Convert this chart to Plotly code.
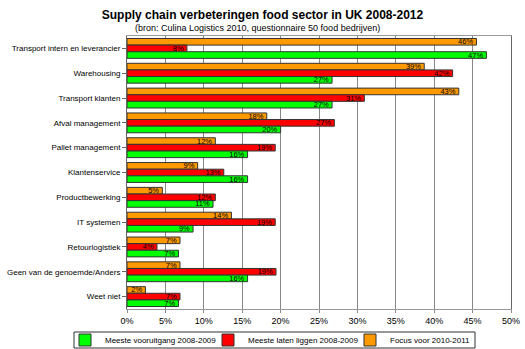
import plotly.graph_objects as go

categories = ["Transport intern en leverancier", "Warehousing", "Transport klanten",
              "Afval management", "Pallet management", "Klantenservice",
              "Productbewerking", "IT systemen", "Retourlogistiek",
              "Geen van de genoemde/Anders", "Weet niet"]
focus = [45.5, 38.7, 43.2, 18.2, 11.5, 9.2, 4.6, 13.6, 6.9, 6.9, 2.4]
laten = [7.8, 42.4, 30.9, 27.0, 19.3, 12.6, 11.5, 19.3, 3.9, 19.4, 6.9]
vooruit = [46.8, 26.7, 26.7, 20.0, 15.7, 15.7, 11.2, 8.6, 6.7, 15.7, 6.7]
x_ticks = [0, 5, 10, 15, 20, 25, 30, 35, 40, 45, 50]

series = [
    ("Focus voor 2010-2011", focus, "#FF9900", "legend3"),
    ("Meeste laten liggen 2008-2009", laten, "#FF0000", "legend2"),
    ("Meeste vooruitgang 2008-2009", vooruit, "#00FF00", "legend"),
]

fig = go.Figure()
for name, vals, col, lg in series:
    fig.add_trace(go.Bar(
        y=categories, x=vals, name=name, orientation="h", legend=lg, showlegend=True,
        marker=dict(color=col, line=dict(color="#333333", width=1)),
        text=[f"{round(v):.0f}%" for v in vals],
        textposition="inside", insidetextanchor="end", constraintext="none",
        textfont=dict(family="Arial", size=7.5, color="#000000"),
        cliponaxis=False,
    ))

W, H = 525, 349
ML, MR, MT, MB = 127, 14, 36, 40
PW, PH = W - ML - MR, H - MT - MB

# legend entry left edges (pixels) and vertical centre
leg_left = [65, 208, 350]
leg_mid = 340


def leg(xpx):
    return dict(orientation="h", xref="container", x=xpx / W, xanchor="left",
                yref="container", y=1 - leg_mid / H, yanchor="middle",
                borderwidth=0, bgcolor="rgba(0,0,0,0)",
                font=dict(family="Arial", size=8, color="#000000"), itemwidth=30)


fig.update_layout(
    width=W, height=H, showlegend=True,
    margin=dict(l=ML, r=MR, t=MT, b=MB, autoexpand=False),
    paper_bgcolor="white", plot_bgcolor="white",
    barmode="group", bargap=0.2, bargroupgap=0,
    font=dict(family="Arial", size=8, color="#000000"),
    title=dict(text="<b>Supply chain verbeteringen food sector in UK 2008-2012</b>",
               x=0.5, xref="container", xanchor="center",
               y=1 - 15 / H, yref="container", yanchor="middle",
               font=dict(family="Arial", size=12, color="#000000")),
    annotations=[dict(text="(bron: Culina Logistics 2010, questionnaire 50 food bedrijven)",
                      xref="paper", yref="paper", x=(257 - ML) / PW,
                      y=(H - MB - 28) / PH, xanchor="center", yanchor="middle",
                      showarrow=False, font=dict(family="Arial", size=9, color="#000000"))],
    shapes=[dict(type="rect", xref="paper", yref="paper",
                 x0=(leg_left[0] + 9 - ML) / PW, x1=(leg_left[2] + 125 - ML) / PW,
                 y0=(H - MB - (leg_mid + 8)) / PH, y1=(H - MB - (leg_mid - 8)) / PH,
                 line=dict(color="#333333", width=1), layer="below")],
    legend=leg(leg_left[0]),
    legend2=leg(leg_left[1]),
    legend3=leg(leg_left[2]),
    xaxis=dict(range=[0, 50], tickvals=x_ticks, ticktext=[f"{t}%" for t in x_ticks],
               showgrid=True, gridcolor="#888888", gridwidth=1,
               showline=True, linecolor="#999999", mirror=True,
               ticks="outside", ticklen=3, tickcolor="#888888", automargin=False,
               zeroline=False, tickfont=dict(family="Arial", size=9)),
    yaxis=dict(autorange="reversed", showline=True, linecolor="#666666", mirror=True,
               ticks="outside", ticklen=4, tickcolor="#666666", automargin=False,
               tickfont=dict(family="Arial", size=8)),
)

fig.write_html("out.html")
